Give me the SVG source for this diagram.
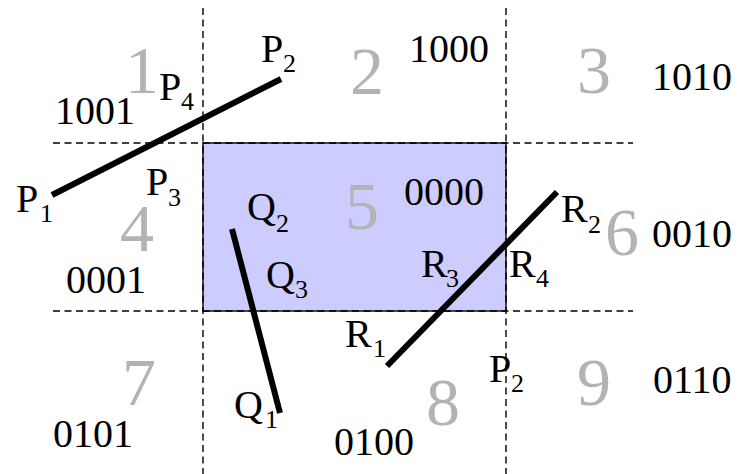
<svg xmlns="http://www.w3.org/2000/svg" width="742" height="474" viewBox="0 0 742 474">
<style>
.dash{stroke:#000;stroke-width:1.4;stroke-dasharray:7,4.5;fill:none}
.seg{stroke:#000;stroke-width:6;fill:none}
text{font-family:"Liberation Serif","Times New Roman",serif}
.code{font-size:40px;fill:#000}
.lab{font-size:40px;fill:#000}
.sub{font-size:26px;fill:#000}
.reg{font-size:68px;fill:#b3b3b3}
</style>
<g id="window">
<rect x="203" y="143" width="303" height="168" fill="#ccccff" stroke="#000" stroke-width="1.4"/>
</g>
<g id="grid">
<line class="dash" x1="203" y1="8" x2="203" y2="474"/>
<line class="dash" x1="506" y1="8" x2="506" y2="474"/>
<line class="dash" x1="53" y1="143" x2="633" y2="143"/>
<line class="dash" x1="53" y1="311" x2="633" y2="311"/>
</g>
<g id="regions">
<text class="reg" x="125" y="93">1</text>
<text class="reg" x="350" y="94">2</text>
<text class="reg" x="577" y="93">3</text>
<text class="reg" x="120" y="251">4</text>
<text class="reg" x="345" y="229">5</text>
<text class="reg" x="605" y="255">6</text>
<text class="reg" x="122" y="405">7</text>
<text class="reg" x="426" y="425">8</text>
<text class="reg" x="577" y="405">9</text>
</g>
<g id="codes">
<text class="code" x="55" y="124">1001</text>
<text class="code" x="409" y="62">1000</text>
<text class="code" x="652" y="90">1010</text>
<text class="code" x="66" y="293">0001</text>
<text class="code" x="404" y="205">0000</text>
<text class="code" x="652" y="247">0010</text>
<text class="code" x="53" y="447">0101</text>
<text class="code" x="334" y="455">0100</text>
<text class="code" x="653" y="393">0110</text>
</g>
<g id="connectors">
<line id="P" class="seg" x1="52" y1="195" x2="281" y2="79"/>
<line id="Q" class="seg" x1="232" y1="229" x2="280" y2="413"/>
<line id="R" class="seg" x1="387" y1="366" x2="557" y2="192"/>
</g>
<g id="labels">
<text class="lab" x="261" y="62">P</text><text class="sub" x="283" y="72">2</text>
<text class="lab" x="159" y="100">P</text><text class="sub" x="181" y="110">4</text>
<text class="lab" x="16" y="212">P</text><text class="sub" x="40" y="222">1</text>
<text class="lab" x="146" y="195">P</text><text class="sub" x="168" y="206">3</text>
<text class="lab" x="247" y="220">Q</text><text class="sub" x="276" y="232">2</text>
<text class="lab" x="266" y="288">Q</text><text class="sub" x="295" y="298">3</text>
<text class="lab" x="234" y="418">Q</text><text class="sub" x="265" y="428">1</text>
<text class="lab" x="561" y="222">R</text><text class="sub" x="588" y="233">2</text>
<text class="lab" x="421" y="277">R</text><text class="sub" x="446" y="287">3</text>
<text class="lab" x="509" y="277">R</text><text class="sub" x="536" y="287">4</text>
<text class="lab" x="345" y="347">R</text><text class="sub" x="373" y="357">1</text>
<text class="lab" x="489" y="382">P</text><text class="sub" x="511" y="392">2</text>
</g>
</svg>
